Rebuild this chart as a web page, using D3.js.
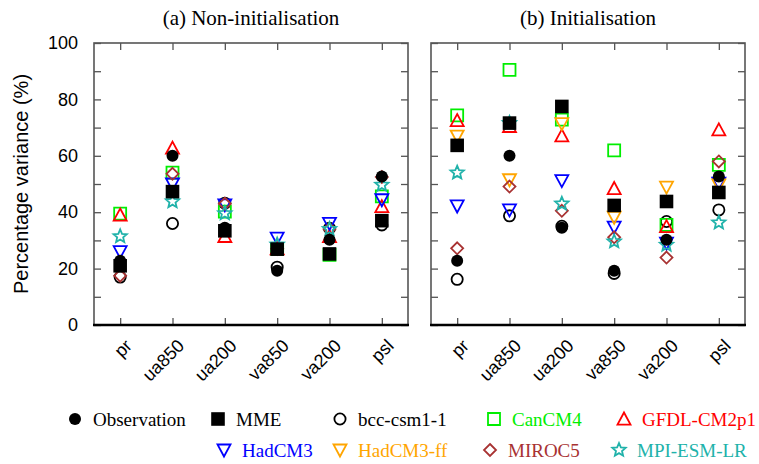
<!DOCTYPE html>
<html><head><meta charset="utf-8">
<script src="https://cdn.jsdelivr.net/npm/d3@7"></script>
<style>body{margin:0;background:#fff}svg{display:block}</style>
</head><body><svg id="c" width="759" height="464"></svg>
<script>
const categories = ["pr","ua850","ua200","va850","va200","psl"];
const panels = ["(a) Non-initialisation","(b) Initialisation"];
const seriesNames = ["bcc-csm1-1","CanCM4","GFDL-CM2p1","HadCM3","HadCM3-ff","MIROC5","MPI-ESM-LR","MME","Observation"];
const seriesColors = ["#000000","#00ee00","#ff0000","#0000ff","#ffa500","#a83232","#20b2aa","#000000","#000000"];
const seriesShapes = ["circleOpen","square","triUp","triDown","triDown","diamond","star","squareFill","circleFill"];
const yTicks = [0,10,20,30,40,50,60,70,80,90,100];

// Non-initialisation values
const nonInit_bcc   = [17.0, 36.0, 43.2, 20.5, 34.3, 35.5];
const nonInit_can   = [39.5, 54.0, 40.2, 27.0, 24.9, 45.6];
const nonInit_gfdl  = [39.0, 62.7, 31.4, 27.0, 31.4, 42.0];
const nonInit_had   = [26.0, 50.0, 42.6, 30.8, 36.0, 44.4];
const nonInit_hadff = [null, null, null, null, null, null];
const nonInit_miroc = [17.5, 53.6, 43.0, 27.0, 34.0, 52.5];
const nonInit_mpi   = [31.4, 43.8, 39.6, 28.5, 34.0, 49.7];
const nonInit_mme   = [21.0, 47.3, 33.4, 26.9, 25.2, 37.0];
const obs           = [22.8, 60.0, 34.5, 19.2, 30.2, 52.7];

// Initialisation values
const init_bcc   = [16.2, 38.7, 35.0, 18.3, 36.7, 40.8];
const init_can   = [74.3, 90.5, 72.8, 61.9, 35.5, 56.8];
const init_gfdl  = [72.5, 70.4, 67.1, 48.4, 34.9, 69.2];
const init_had   = [42.2, 40.8, 51.2, 34.7, 29.0, 50.3];
const init_hadff = [67.0, 51.5, 71.4, 38.2, 48.9, 49.7];
const init_miroc = [27.2, 49.1, 40.5, 31.1, 23.9, 58.0];
const init_mpi   = [54.0, 71.6, 43.0, 29.6, 28.4, 36.3];
const init_mme   = [63.7, 71.6, 77.5, 42.4, 43.8, 47.0];

const panelData = [
  [nonInit_bcc,nonInit_can,nonInit_gfdl,nonInit_had,nonInit_hadff,nonInit_miroc,nonInit_mpi,nonInit_mme,obs],
  [init_bcc,init_can,init_gfdl,init_had,init_hadff,init_miroc,init_mpi,init_mme,obs]
];

const svg = d3.select("#c");
const yTop = 43, yBottom = 325;
const panelX = [[94,408],[431,745]];
const y = d3.scaleLinear().domain([0,100]).range([yBottom, yTop]);

function shapePath(shape, s){
  const h = s/2;
  switch(shape){
    case "circleOpen": case "circleFill": {
      const p=d3.path(); const r=(shape==="circleFill"?6:5.6);
      p.moveTo(r,0); p.arc(0,0,r,0,2*Math.PI); p.closePath(); return p.toString();
    }
    case "square": return `M${-h},${-h}H${h}V${h}H${-h}Z`;
    case "squareFill": { const q=6.8; return `M${-q},${-q}H${q}V${q}H${-q}Z`; }
    case "triUp": return `M0,${-h}L${h},${h*0.85}L${-h},${h*0.85}Z`;
    case "triDown": return `M0,${h}L${h},${-h*0.85}L${-h},${-h*0.85}Z`;
    case "diamond": return `M0,${-h}L${h},0L0,${h}L${-h},0Z`;
    case "star": {
      const pts=[]; const R=h+1, r=R*0.45;
      for(let i=0;i<10;i++){const a=-Math.PI/2+i*Math.PI/5; const rr=i%2?r:R; pts.push([rr*Math.cos(a), rr*Math.sin(a)]);}
      return "M"+pts.map(p=>p[0].toFixed(2)+","+p[1].toFixed(2)).join("L")+"Z";
    }
  }
}
function drawMarker(g, shape, color, cx, cy){
  const filled = shape==="circleFill"||shape==="squareFill";
  const size = (shape==="triUp"||shape==="triDown") ? 13 : 12;
  g.append("path").attr("d", shapePath(shape,size))
    .attr("transform",`translate(${cx},${cy})`)
    .attr("fill", filled?color:"none")
    .attr("stroke", color).attr("stroke-width", filled?0:1.8)
    .attr("stroke-linejoin","miter");
}

panels.forEach((title, pi)=>{
  const [x0,x1] = panelX[pi];
  const x = d3.scalePoint().domain(categories).range([x0,x1]).padding(0.5);
  const g = svg.append("g");
  g.append("text").attr("x",(x0+x1)/2).attr("y",25).attr("text-anchor","middle")
    .attr("font-family","Liberation Serif, Times New Roman, serif").attr("font-size",21).text(title);
  g.append("rect").attr("x",x0).attr("y",yTop).attr("width",x1-x0).attr("height",yBottom-yTop)
    .attr("fill","none").attr("stroke","#555").attr("stroke-width",1.6);
  const axL = g.append("g").attr("transform",`translate(${x0},0)`)
    .call(d3.axisLeft(y).tickValues(yTicks).tickSize(-7).tickPadding(16)
      .tickFormat(d=> (pi===0 && d%20===0) ? d : ""));
  const axR = g.append("g").attr("transform",`translate(${x1},0)`)
    .call(d3.axisRight(y).tickValues(yTicks).tickSize(-7).tickFormat(""));
  const axT = g.append("g").attr("transform",`translate(0,${yTop})`)
    .call(d3.axisTop(x).tickSize(-7).tickFormat(""));
  const axB = g.append("g").attr("transform",`translate(0,${yBottom})`)
    .call(d3.axisBottom(x).tickSize(-7).tickFormat(""));
  [axL,axR,axT,axB].forEach(a=>{a.select(".domain").remove(); a.selectAll(".tick line").attr("stroke","#555").attr("stroke-width",1.3);});
  axL.selectAll(".tick text").attr("font-family","Liberation Sans, Arial, sans-serif").attr("font-size",18).attr("fill","#000");
  g.append("line").attr("x1",x0-1).attr("x2",x1+1).attr("y1",yBottom).attr("y2",yBottom).attr("stroke","#000").attr("stroke-width",2.6);
  categories.forEach(c=>{
    g.append("text").attr("transform",`translate(${x(c)+4},${yBottom+13}) rotate(-45)`)
      .attr("text-anchor","end").attr("dy","0.7em")
      .attr("font-family","Liberation Sans, Arial, sans-serif").attr("font-size",18).text(c);
  });
  const mg = g.append("g");
  panelData[pi].forEach((vals, si)=>{
    vals.forEach((v, ci)=>{
      if(v==null) return;
      drawMarker(mg, seriesShapes[si], seriesColors[si], x(categories[ci]), y(v));
    });
  });
});

svg.append("text").attr("transform",`translate(28,${(yTop+yBottom)/2}) rotate(-90)`)
  .attr("text-anchor","middle").attr("font-family","Liberation Sans, Arial, sans-serif")
  .attr("font-size",20).text("Percentage variance (%)");

const legendOrder = ["Observation","MME","bcc-csm1-1","CanCM4","GFDL-CM2p1","HadCM3","HadCM3-ff","MIROC5","MPI-ESM-LR"];
const legendPos = [[75,419],[218,419],[340,419],[494,419],[624,419],[224,450],[340,450],[490,450],[619,450]];
legendOrder.forEach((name,i)=>{
  const si = seriesNames.indexOf(name);
  const [lx,ly] = legendPos[i];
  drawMarker(svg, seriesShapes[si], seriesColors[si], lx, ly);
  svg.append("text").attr("x",lx+18).attr("y",ly).attr("dy","0.35em")
    .attr("font-family","Liberation Serif, Times New Roman, serif").attr("font-size",19)
    .attr("fill", seriesColors[si]).text(name);
});
</script></body></html>
